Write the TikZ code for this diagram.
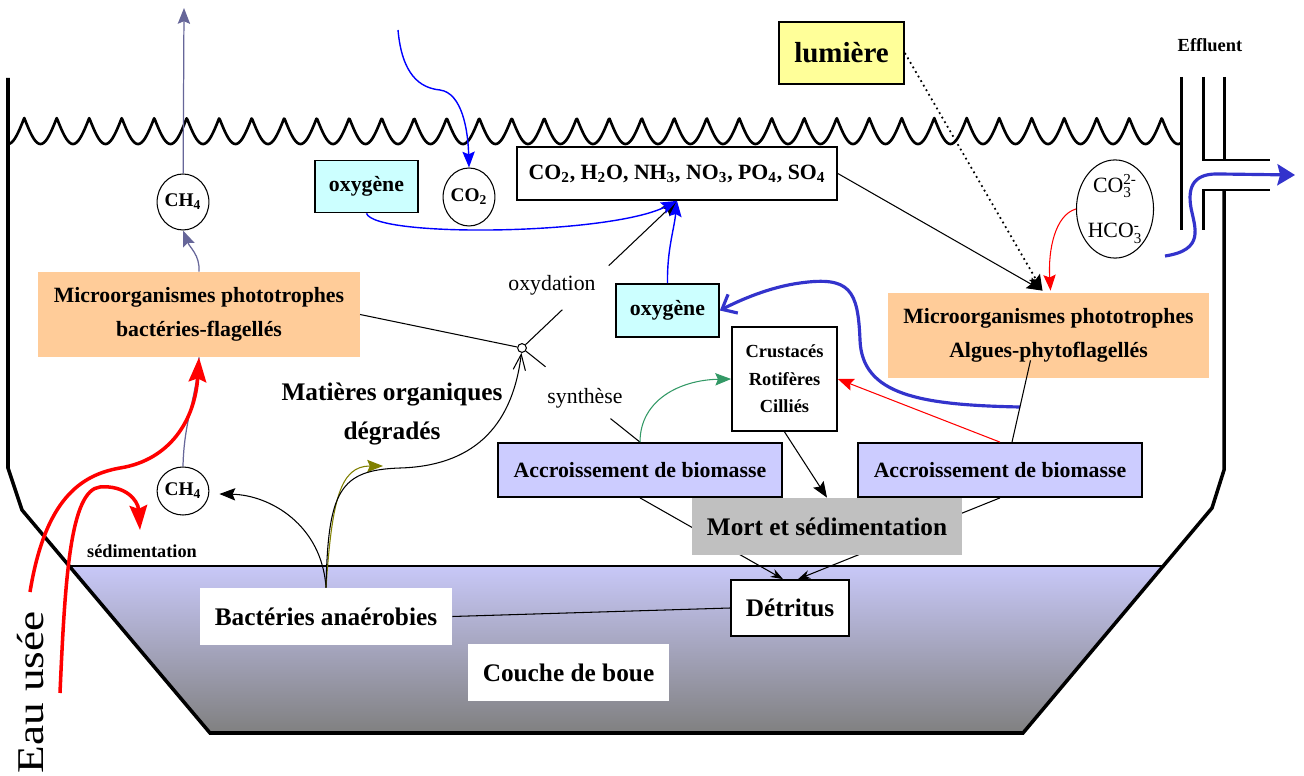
\documentclass[tikz,border=0pt]{standalone}
\usepackage{fontspec}
\setmainfont{Liberation Serif}
\usepackage{amsmath}
\usepackage{graphicx}
\usetikzlibrary{arrows.meta,calc,shapes.geometric}
\definecolor{peach}{RGB}{255,204,153}
\definecolor{cyanlt}{RGB}{204,255,255}
\definecolor{lavbox}{RGB}{204,204,255}
\definecolor{lumyel}{RGB}{255,255,153}
\definecolor{mortgray}{RGB}{192,192,192}
\definecolor{slatec}{RGB}{102,102,153}
\definecolor{blueln}{RGB}{0,0,255}
\definecolor{bluefat}{RGB}{51,51,204}
\definecolor{greenc}{RGB}{51,153,102}
\definecolor{olivec}{RGB}{128,128,0}
\definecolor{sludgetop}{RGB}{200,200,248}
\definecolor{sludgebot}{RGB}{128,128,128}
\begin{document}
\begin{tikzpicture}[x=0.02cm, y=-0.02cm, >={Stealth[length=9pt,width=7pt,inset=1.5pt]},
            lbl/.style={font=\fontsize{12.4}{15}\selectfont},
            midb/.style={font=\fontsize{12.4}{19.3}\selectfont\bfseries},
            bigb/.style={font=\fontsize{14.4}{17}\selectfont\bfseries},
            orgbox/.style={midb, fill=peach, inner sep=0pt, minimum width=6.43cm, minimum height=1.7cm, align=center},
            oxbox/.style={midb, draw, line width=1pt, fill=cyanlt, inner sep=0pt, minimum width=2.06cm, minimum height=1.04cm},
            biobox/.style={midb, draw, line width=1pt, fill=lavbox, inner sep=0pt, minimum width=5.68cm, minimum height=1.08cm},
            wbox/.style={draw, line width=1pt, fill=white, inner sep=0pt, align=center},
            plainbox/.style={bigb, fill=white, inner sep=0pt, minimum height=1.14cm},
            gas/.style={ellipse, draw, line width=0.6pt, fill=white, inner sep=0pt, align=center, font=\fontsize{11}{13}\selectfont\bfseries},
            wall/.style={line width=2pt, line join=miter},
            link/.style={line width=0.6pt},
            methane/.style={line width=0.7pt, slatec},
            bluelink/.style={line width=0.8pt, blueln},
            fatblue/.style={line width=1.8pt, bluefat, >={Stealth[length=10pt,width=12pt,inset=1.5pt]}},
            fatred/.style={line width=2pt, red, >={Stealth[length=14pt,width=10pt,inset=2pt]}}]
            \useasboundingbox (0,0) rectangle (1304,776);
            \fill[white] (0,0) rectangle (1304,776);
            \shade[top color=sludgetop, bottom color=sludgebot] (68,566) -- (1163,566) -- (1023,733) -- (210,733) -- cycle;
            \draw[link] (68,566) -- (1163,566);
            \draw[wall] (8,78) -- (8,468) -- (22,510) -- (210,733) -- (1023,733) -- (1212,508) -- (1224,470) -- (1224,190);
            \draw[wall, line width=1.7pt] (1181,77) -- (1181,230);
            \draw[wall, line width=1.7pt] (1203,77) -- (1203,160) -- (1270,160);
            \draw[wall, line width=1.7pt] (1224,77) -- (1224,160);
            \draw[wall, line width=1.7pt] (1203,230) -- (1203,190) -- (1270,190);
            \draw[line width=1.5pt, line join=round] plot[domain=0:36.09, samples=1445, variable=\t] ({8+32.5*\t},{118+26*abs(cos(180*\t))});

            \node[draw, line width=1pt, fill=lumyel, inner sep=0pt, minimum width=2.5cm, minimum height=1.24cm, font=\fontsize{16.5}{19}\selectfont\bfseries] (lum) at (841.5,53) {lumière};
            \node[font=\fontsize{10.5}{12}\selectfont\bfseries] (eff) at (1210,45) {Effluent};
            \node[wbox, midb, minimum width=6.4cm, minimum height=1.06cm] (chem) at (677,173.5) {CO\textsubscript{2}, H\textsubscript{2}O, NH\textsubscript{3}, NO\textsubscript{3}, PO\textsubscript{4}, SO\textsubscript{4}};
            \node[oxbox] (oxyL) at (366.5,186.5) {oxygène};
            \node[oxbox, minimum height=1.06cm] (oxyR) at (667.5,310.5) {oxygène};
            \node[gas, minimum width=0.88cm, minimum height=1.16cm] (co2) at (469,197) {CO\textsubscript{2}};
            \node[gas, minimum width=0.92cm, minimum height=1.12cm] (ch4a) at (183,202) {CH\textsubscript{4}};
            \node[gas, minimum width=0.88cm, minimum height=0.96cm] (ch4b) at (183,491) {CH\textsubscript{4}};
            \node[gas, font=\fontsize{12.4}{26}\selectfont, minimum width=1.52cm, minimum height=1.96cm] (carb) at (1115,209) {CO$_{\text{3}}^{\text{2-}}$\\HCO$_{\text{3}}^{\text{-}}$};
            \node[orgbox] (microL) at (199,314.5) {Microorganismes phototrophes\\bactéries-flagellés};
            \node[orgbox] (microR) at (1048.5,335.5) {Microorganismes phototrophes\\Algues-phytoflagellés};
            \node[wbox, font=\fontsize{10.5}{15.6}\selectfont\bfseries, minimum width=2.1cm, minimum height=2.08cm] (crus) at (784.5,379) {Crustacés\\Rotifères\\Cilliés};
            \node[biobox] (acc1) at (640,470) {Accroissement de biomasse};
            \node[biobox] (acc2) at (1000,470) {Accroissement de biomasse};
            \node[wbox, bigb, minimum width=2.36cm, minimum height=1.12cm] (det) at (790,608) {Détritus};
            \node[plainbox, minimum width=5.04cm] (bact) at (326,616.5) {Bactéries anaérobies};
            \node[plainbox, minimum width=4.02cm] (boue) at (568.5,672.5) {Couche de boue};
            \node[align=center, font=\fontsize{14.4}{22.7}\selectfont\bfseries] (mat) at (392,414) {Matières organiques\\dégradés};
            \node[lbl] (oxyd) at (552,285) {oxydation};
            \node[lbl] (synth) at (585,398) {synthèse};
            \node[font=\fontsize{10.4}{12}\selectfont\bfseries] (sedim) at (142,551) {sédimentation};
            \node[rotate=90, inner sep=0pt, font=\fontsize{21.5}{24}\selectfont] (eau) at (30.5,692.5) {\scalebox{1.2}[1]{Eau usée}};
            \node[circle, draw, fill=white, line width=0.6pt, inner sep=0pt, minimum size=5pt] (jn) at (522,348) {};
            \coordinate (sky) at (184,8);
            \coordinate (airIn) at (398,30);
            \coordinate (inA) at (30,592);
            \coordinate (inB) at (60,693);
            \coordinate (sedTip) at (140,530);
            \coordinate (matIn) at (383,466);
            \coordinate (blueS) at (1020,407);
            \coordinate (effS) at (1165,256);
            \coordinate (effE) at (1295,175);

            \draw[link, -{Stealth[length=7pt,width=5pt]}] (acc1.south) -- ($(det.north)+(-7,0)$);
            \draw[link, -{Stealth[length=7pt,width=5pt]}] (acc2.south) -- ($(det.north)+(8,0)$);
            \node[bigb, fill=mortgray, inner sep=0pt, minimum width=5.4cm, minimum height=1.14cm] (mort) at (827,526.5) {Mort et sédimentation};

            \draw[methane, ->] (ch4a) -- (sky);
            \draw[methane, ->] (microL.north) .. controls (200,255) and (190,248) .. (ch4a.south);
            \draw[methane] (ch4b.north) .. controls (184,420) and (196,400) .. (microL.south);
            \draw[fatred, ->] (inA) .. controls (45,500) and (80,475) .. (120,468) .. controls (170,460) and (195,420) .. (microL.south);
            \draw[fatred, ->] (inB) .. controls (65,580) and (70,490) .. (100,487) .. controls (125,485) and (138,500) .. (sedTip);

            \draw[link, ->] (bact.north) .. controls (322,525) and (270,495) .. ($(ch4b.east)+(10,3)$);
            \draw[link, olivec, ->] (bact.north) .. controls (332,500) and (340,466) .. (matIn);
            \draw[link, -{Straight Barb[length=9pt,width=7pt]}] (bact.north) .. controls (328,490) and (340,470) .. (400,468) .. controls (470,466) and (512,430) .. (jn);
            \draw[link] (microL.east) -- (jn);
            \draw[link] (jn) -- ($(jn)!0.26!(chem.south)$);
            \draw[link, ->] ($(jn)!0.56!(chem.south)$) -- (chem.south);
            \draw[link] (jn) -- ($(jn)!0.2!(acc1.north)$);
            \draw[link] ($(jn)!0.75!(acc1.north)$) -- (acc1.north);

            \draw[bluelink, ->] (oxyL.south) .. controls (375,238) and (610,235) .. (chem.south);
            \draw[bluelink, ->] (oxyR.north) .. controls (667,250) and (674,230) .. (chem.south);
            \draw[bluelink, ->] (airIn) .. controls (402,75) and (420,88) .. (440,90) .. controls (462,93) and (468,130) .. (co2.north);
            \draw[fatblue, -{Straight Barb[length=7pt,width=12pt]}] (blueS) .. controls (920,405) and (862,395) .. (860,340) .. controls (858,290) and (850,276) .. (800,283) .. controls (770,287) and (740,300) .. (oxyR.east);
            \draw[fatblue, ->] (effS) .. controls (1205,250) and (1195,228) .. (1191,208) .. controls (1187,185) and (1195,173) .. (1220,174) -- (effE);

            \draw[link, ->] (chem.east) -- ($(microR.north)+(-6,-2)$);
            \draw[link, line width=1pt, dotted, ->] (lum.east) -- ($(microR.north)+(-6,-2)$);
            \draw[link, red, ->] (carb.west) .. controls (1055,215) and (1048,250) .. ($(microR.north)+(2,-2)$);
            \draw[link] ($(acc2.north)+(12,0)$) -- ($(microR.south)+(-18,-18)$);
            \draw[link, red, ->] (acc2.north) -- (crus.east);
            \draw[link, greenc, ->] (acc1.north) .. controls (640,400) and (680,380) .. (crus.west);
            \draw[link, ->] (crus.south) -- (mort.north);
            \draw[link] (bact.east) -- (det.west);
\end{tikzpicture}
\end{document}
